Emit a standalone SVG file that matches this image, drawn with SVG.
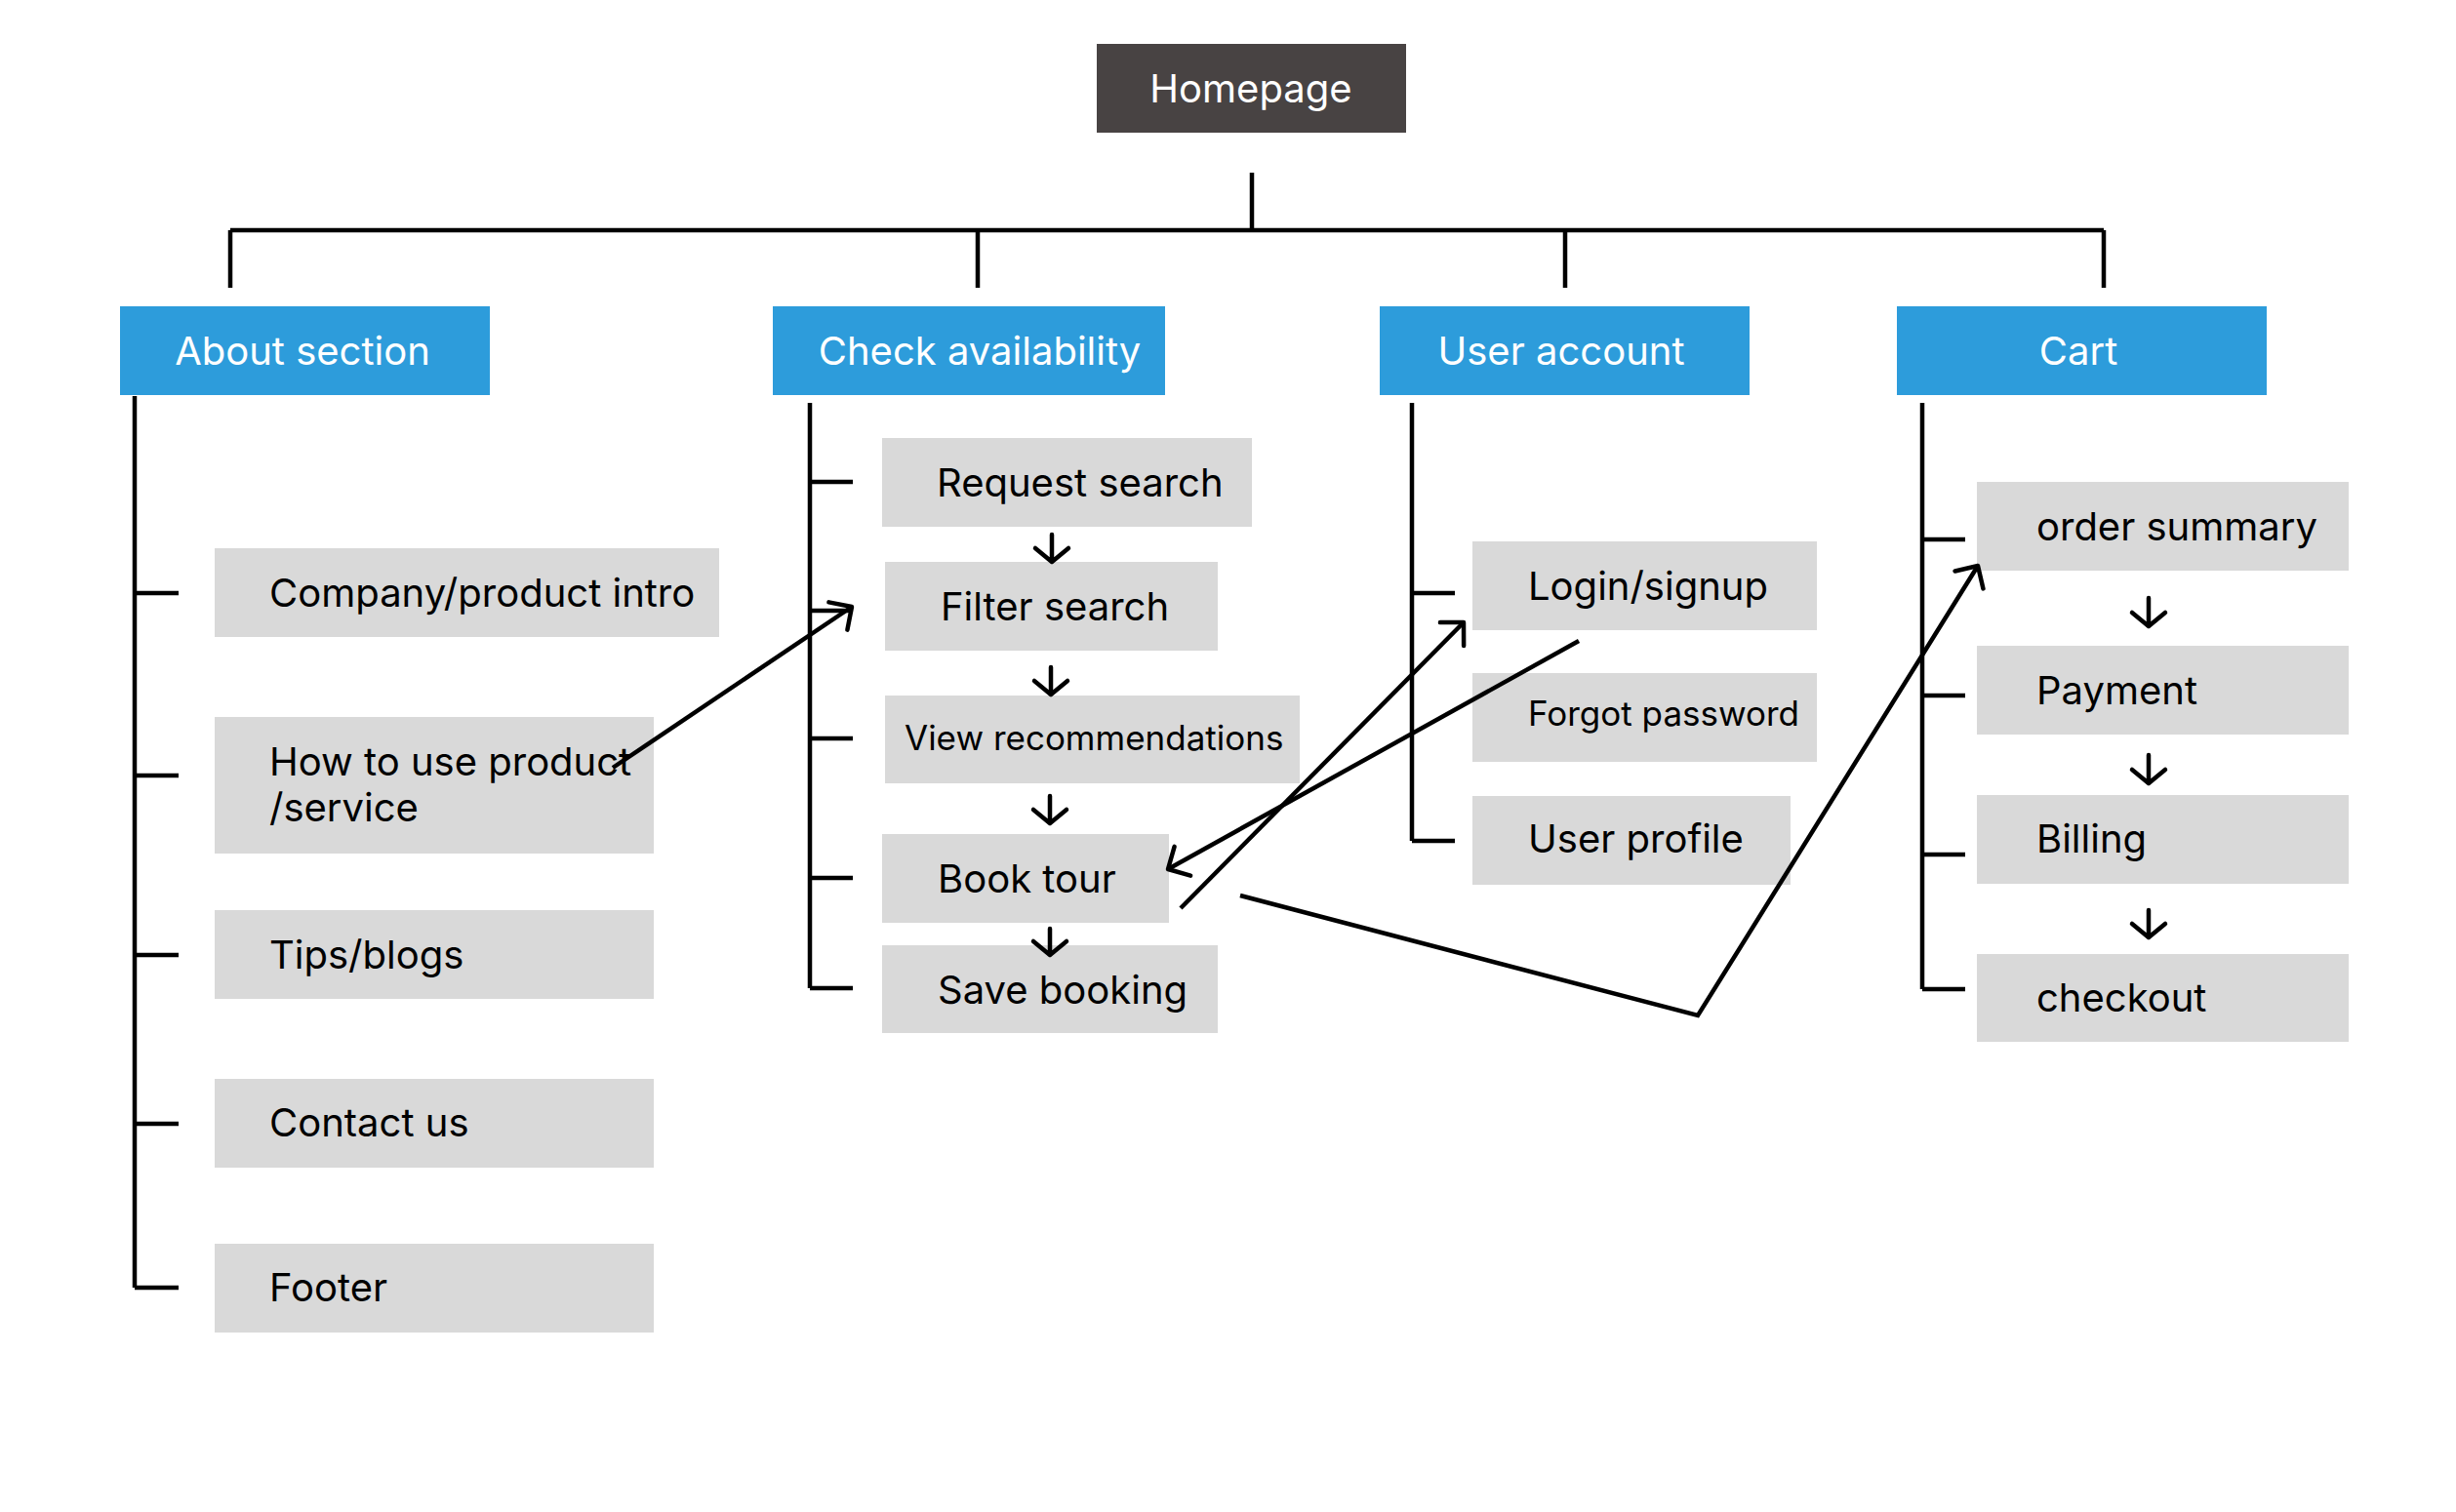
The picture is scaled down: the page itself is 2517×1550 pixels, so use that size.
<svg xmlns="http://www.w3.org/2000/svg" width="2517" height="1550" viewBox="0 0 2517 1550">
<defs>
<style>
.t{font-family:Inter,"Liberation Sans",sans-serif;font-size:40px;fill:#000}
.s{font-size:35px}
.w{fill:#fff;text-anchor:middle}
.box{fill:#D9D9D9}
.hdr{fill:#2D9CDB}
.ln{stroke:#000;stroke-width:4.5;fill:none}
.ar{stroke:#000;stroke-width:4.5;fill:none;stroke-linecap:round;stroke-linejoin:round}
</style>
<marker id="open" markerUnits="userSpaceOnUse" orient="auto" markerWidth="40" markerHeight="40" refX="0" refY="0" viewBox="-20 -20 40 40" overflow="visible">
<path d="M-17,-17 L0,0 L-17,17" fill="none" stroke="#000" stroke-width="4.5" stroke-linecap="round" stroke-linejoin="round"/>
</marker>
</defs>
<rect width="2517" height="1550" fill="#fff"/>

<g id="homepage"><rect x="1124" y="45" width="317" height="91" fill="#484343"/><text class="t w" x="1282" y="105">Homepage</text></g>

<g id="about-section"><rect class="hdr" x="123" y="314" width="379" height="91"/><text class="t w" x="310" y="374">About section</text></g>
<g id="check-availability"><rect class="hdr" x="792" y="314" width="402" height="91"/><text class="t w" x="1004" y="374">Check availability</text></g>
<g id="user-account"><rect class="hdr" x="1414" y="314" width="379" height="91"/><text class="t w" x="1600" y="374">User account</text></g>
<g id="cart"><rect class="hdr" x="1944" y="314" width="379" height="91"/><text class="t w" x="2130" y="374">Cart</text></g>

<g id="company-intro"><rect class="box" x="220" y="562" width="517" height="91"/><text class="t" x="276" y="622">Company/product intro</text></g>
<g id="how-to-use"><rect class="box" x="220" y="735" width="450" height="140"/><text class="t" x="276" y="795">How to use product</text><text class="t" x="276" y="842">/service</text></g>
<g id="tips-blogs"><rect class="box" x="220" y="933" width="450" height="91"/><text class="t" x="276" y="993">Tips/blogs</text></g>
<g id="contact-us"><rect class="box" x="220" y="1106" width="450" height="91"/><text class="t" x="276" y="1165">Contact us</text></g>
<g id="footer"><rect class="box" x="220" y="1275" width="450" height="91"/><text class="t" x="276" y="1334">Footer</text></g>

<g id="request-search"><rect class="box" x="904" y="449" width="379" height="91"/><text class="t" x="960" y="509">Request search</text></g>
<g id="filter-search"><rect class="box" x="907" y="576" width="341" height="91"/><text class="t" x="964" y="636">Filter search</text></g>
<g id="view-recommendations"><rect class="box" x="907" y="713" width="425" height="90"/><text class="t s" x="927" y="769">View recommendations</text></g>
<g id="book-tour"><rect class="box" x="904" y="855" width="294" height="91"/><text class="t" x="961" y="915">Book tour</text></g>
<g id="save-booking"><rect class="box" x="904" y="969" width="344" height="90"/><text class="t" x="961" y="1029">Save booking</text></g>

<g id="login-signup"><rect class="box" x="1509" y="555" width="353" height="91"/><text class="t" x="1566" y="615">Login/signup</text></g>
<g id="forgot-password"><rect class="box" x="1509" y="690" width="353" height="91"/><text class="t s" x="1566" y="744">Forgot password</text></g>
<g id="user-profile"><rect class="box" x="1509" y="816" width="326" height="91"/><text class="t" x="1566" y="874">User profile</text></g>

<g id="order-summary"><rect class="box" x="2026" y="494" width="381" height="91"/><text class="t" x="2087" y="554">order summary</text></g>
<g id="payment"><rect class="box" x="2026" y="662" width="381" height="91"/><text class="t" x="2087" y="722">Payment</text></g>
<g id="billing"><rect class="box" x="2026" y="815" width="381" height="91"/><text class="t" x="2087" y="874">Billing</text></g>
<g id="checkout"><rect class="box" x="2026" y="978" width="381" height="90"/><text class="t" x="2087" y="1037">checkout</text></g>

<g id="connectors">
<path class="ln" d="M1283,177 V236" />
<path class="ln" d="M236,236 H2156" stroke-width="5"/>
<path class="ln" d="M236,236 V295 M1002,236 V295 M1604,236 V295 M2156,236 V295"/>
<path class="ln" d="M138,406 V1320 M138,608 H183 M138,795 H183 M138,979 H183 M138,1152 H183 M138,1320 H183"/>
<path class="ln" d="M830,413 V1013 M830,494 H874 M830,626 H874 M830,757 H874 M830,900 H874 M830,1013 H874"/>
<path class="ln" d="M1447,413 V862 M1447,608 H1491 M1447,862 H1491"/>
<path class="ln" d="M1970,413 V1014 M1970,553 H2014 M1970,713 H2014 M1970,876 H2014 M1970,1014 H2014"/>
<g class="ar">
<path d="M1078,548 V576 M1061,562 L1078,576 L1095,562"/>
<path d="M1077,684 V712 M1060,698 L1077,712 L1094,698"/>
<path d="M1076,816 V844 M1059,830 L1076,844 L1093,830"/>
<path d="M1076,952 V979 M1059,965 L1076,979 L1093,965"/>
<path d="M2202,613 V642 M2185,628 L2202,642 L2219,628"/>
<path d="M2202,774 V803 M2185,789 L2202,803 L2219,789"/>
<path d="M2202,933 V961 M2185,947 L2202,961 L2219,947"/>
</g>
<path class="ln" d="M628,787 L873,622" marker-end="url(#open)"/>
<path class="ln" d="M1618,657 L1197,891" marker-end="url(#open)"/>
<path class="ln" d="M1210,931 L1500,638" marker-end="url(#open)"/>
<path class="ln" d="M1271,918 L1740,1041 L2027,580" marker-end="url(#open)"/>
</g>
</svg>
